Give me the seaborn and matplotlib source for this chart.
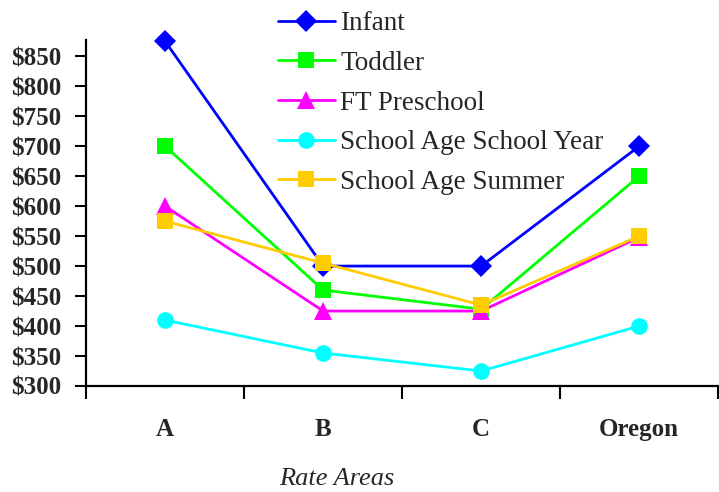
import numpy as np
import pandas as pd
import matplotlib
matplotlib.use("Agg")
import matplotlib.pyplot as plt
from matplotlib.ticker import FixedLocator, NullFormatter, FuncFormatter
from matplotlib.lines import Line2D
import seaborn as sns

###############################################################################
# Data
###############################################################################
areas = ["A", "B", "C", "Oregon"]
series = ["Infant", "Toddler", "FT Preschool",
          "School Age School Year", "School Age Summer"]
infant = [875, 500, 500, 700]
toddler = [700, 460, 428, 650]
ft_preschool = [600, 425, 425, 548]
school_year = [410, 355, 325, 400]
school_summer = [575, 505, 435, 550]

colors = ["#0000FF", "#00FF00", "#FF00FF", "#00FFFF", "#FFCC00"]
markers = ["D", "s", "^", "o", "s"]
msizes = [11, 12, 13, 12, 12]

rows = []
for name, vals in zip(series, [infant, toddler, ft_preschool, school_year, school_summer]):
    for a, v in zip(areas, vals):
        rows.append({"Area": a, "Rate": v, "Series": name})
df = pd.DataFrame(rows)

###############################################################################
# Style
###############################################################################
sns.set_style("white")
plt.rcParams["font.family"] = ["Liberation Serif", "DejaVu Serif"]

fig = plt.figure(figsize=(7.19, 4.92), dpi=100)
ax = fig.add_axes([86/719, 1-386/492, (719-86)/719 - 0.001, 346/492])

sns.lineplot(
    data=df, x="Area", y="Rate", hue="Series", style="Series",
    hue_order=series, style_order=series,
    palette=dict(zip(series, colors)), markers=dict(zip(series, markers)),
    dashes=False, markersize=12, markeredgewidth=0, linewidth=2,
    sort=False, ax=ax, legend=False
)
for ln, ms in zip(ax.get_lines(), msizes):
    ln.set_markersize(ms)
    ln.set_clip_on(False)

# Axes ------------------------------------------------------------------------
ax.set_xlim(-0.5, 3.5)
ax.set_ylim(300, 877)
ax.set_yticks(np.arange(300, 851, 50))
ax.yaxis.set_major_formatter(FuncFormatter(lambda v, p: "${:.0f}".format(v)))
ax.xaxis.set_major_locator(FixedLocator([-0.5, 0.5, 1.5, 2.5, 3.5]))
ax.xaxis.set_major_formatter(NullFormatter())
ax.set_xticks(range(len(areas)), minor=True)
ax.set_xticklabels(areas, minor=True, fontsize=18, fontweight="bold")
ax.tick_params(axis="x", which="major", direction="out", length=9, width=1.5,
               bottom=True, color="black")
ax.tick_params(axis="x", which="minor", length=0, pad=23, bottom=True)
ax.tick_params(axis="y", direction="out", length=8, width=1.5, pad=10,
               left=True, color="black", labelsize=18)
for lab in ax.get_yticklabels():
    lab.set_fontweight("bold")
for s in ["top", "right"]:
    ax.spines[s].set_visible(False)
for s in ["left", "bottom"]:
    ax.spines[s].set_linewidth(1.6)
    ax.spines[s].set_color("black")
ax.grid(False)
ax.set_ylabel("")
ax.set_xlabel("Rate Areas", fontsize=19, fontstyle="italic")
ax.xaxis.set_label_coords((337-86)/633, (386-468)/346)

# Legend ----------------------------------------------------------------------
handles = [Line2D([], [], color=c, marker=m, markersize=ms, markeredgewidth=0,
                  linewidth=2) for c, m, ms in zip(colors, markers, msizes)]
ax.legend(
    handles, series, loc="upper left", bbox_to_anchor=(278/719, 0.977),
    bbox_transform=fig.transFigure, frameon=False, fontsize=19.5,
    borderpad=0, borderaxespad=0, handlelength=2.1, handletextpad=0.2,
    labelspacing=0.54
)

fig.savefig("out.png", dpi=100, facecolor="white")
plt.close("all")
